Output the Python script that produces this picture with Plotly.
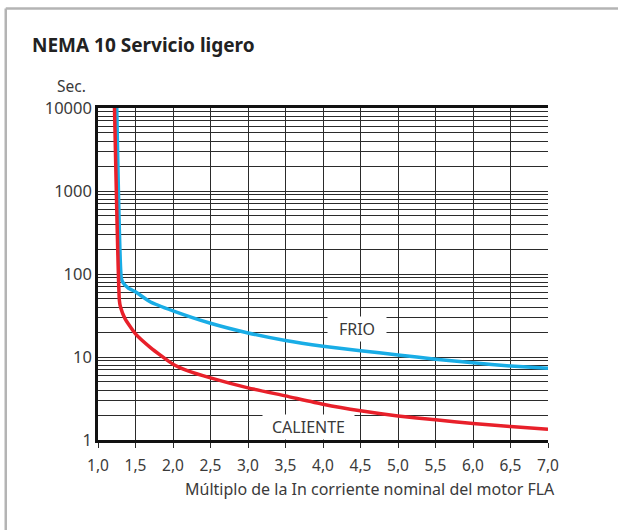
import plotly.graph_objects as go

# curva en frio (azul) y en caliente (rojo)
frio_x = [1.25, 1.31, 1.33, 1.4, 1.5, 1.7, 2.0, 2.5, 3.0, 3.5, 4.0, 4.5, 5.0, 5.5, 6.0, 6.5, 7.0]
frio_y = [10000, 90, 80, 68, 61, 46, 36, 25.5, 19.5, 15.8, 13.5, 11.9, 10.6, 9.4, 8.5, 7.8, 7.3]

caliente_x = [1.22, 1.285, 1.30, 1.36, 1.5, 1.7, 2.0, 2.2, 2.5, 3.0, 3.5, 4.0, 4.5, 5.0, 5.5, 6.0, 6.5, 7.0]
caliente_y = [10000, 48, 40, 29, 19, 13, 8.2, 6.8, 5.6, 4.25, 3.4, 2.7, 2.25, 1.95, 1.75, 1.58, 1.45, 1.35]

x_ticks = [1.0, 1.5, 2.0, 2.5, 3.0, 3.5, 4.0, 4.5, 5.0, 5.5, 6.0, 6.5, 7.0]
x_labels = ["1,0", "1,5", "2,0", "2,5", "3,0", "3,5", "4,0", "4,5", "5,0", "5,5", "6,0", "6,5", "7,0"]

decadas = [1, 10, 100, 1000, 10000]
y_ticks = [d * k for d in decadas[:-1] for k in range(1, 10)] + [10000]
y_labels = [str(v) if v in decadas else "" for v in y_ticks]

fig = go.Figure()
fig.add_trace(go.Scatter(x=frio_x, y=frio_y, mode="lines",
                         line=dict(color="#19ade6", width=3.5, shape="spline", smoothing=0.5)))
fig.add_trace(go.Scatter(x=caliente_x, y=caliente_y, mode="lines",
                         line=dict(color="#e8202a", width=3.5, shape="spline", smoothing=0.5)))

grid = "#2b2b2b"
fig.update_xaxes(range=[1, 7], tickvals=x_ticks, ticktext=x_labels,
                 showgrid=True, gridcolor=grid, gridwidth=1,
                 showline=True, linecolor="#111", linewidth=2.5, mirror=True,
                 ticks="outside", ticklen=5, tickcolor=grid, zeroline=False,
                 ticklabelstandoff=5,
                 tickfont=dict(family="Noto Sans", size=15.5, color="#3a3a3a"),
                 title=None)
fig.update_yaxes(type="log", range=[0, 4], tickvals=y_ticks, ticktext=y_labels,
                 showgrid=True, gridcolor=grid, gridwidth=1,
                 showline=True, linecolor="#111", linewidth=2.5,
                 ticks="", zeroline=False,
                 tickfont=dict(family="Noto Sans", size=16.5, color="#3a3a3a"))

# etiquetas con fondo blanco
fig.add_annotation(x=4.45, y=1.337, text="FRIO", showarrow=False,
                   bgcolor="white", width=56, height=22,
                   font=dict(family="Noto Sans", size=16, color="#3a3a3a"))
fig.add_annotation(x=3.81, y=0.16, text="CALIENTE", showarrow=False,
                   bgcolor="white", width=89, height=22,
                   font=dict(family="Noto Sans", size=16, color="#3a3a3a"))

# titulo, unidades y eje x
fig.add_annotation(xref="paper", yref="paper", x=-0.151, y=1.19, xanchor="left", yanchor="middle",
                   text="<b>NEMA 10 Servicio ligero</b>", showarrow=False,
                   font=dict(family="Noto Sans", size=19, color="#222"))
fig.add_annotation(xref="paper", yref="paper", x=-0.022, y=1.065, xanchor="right", yanchor="middle",
                   text="Sec.", showarrow=False,
                   font=dict(family="Noto Sans", size=15.5, color="#3a3a3a"))
fig.add_annotation(xref="paper", yref="paper", x=1.02, y=-0.147, xanchor="right", yanchor="middle",
                   text="Múltiplo de la In corriente nominal del motor FLA", showarrow=False,
                   font=dict(family="Noto Sans", size=16, color="#3a3a3a"))

# marco gris exterior: solo borde izquierdo y superior
marco = dict(color="#b4b4b4", width=2.5)
fig.add_shape(type="line", xref="paper", yref="paper", x0=-0.205, x1=-0.205, y0=-0.3, y1=1.30, line=marco)
fig.add_shape(type="line", xref="paper", yref="paper", x0=-0.205, x1=1.2, y0=1.30, y1=1.30, line=marco)

fig.update_layout(width=618, height=530, showlegend=False,
                  margin=dict(l=98, r=70, t=108, b=90),
                  plot_bgcolor="white", paper_bgcolor="white")

fig.write_html("out.html", config={"displayModeBar": False},
               post_script="document.body.style.margin='0';"
                           "document.body.style.overflow='hidden';"
                           "document.documentElement.style.overflow='hidden';")
